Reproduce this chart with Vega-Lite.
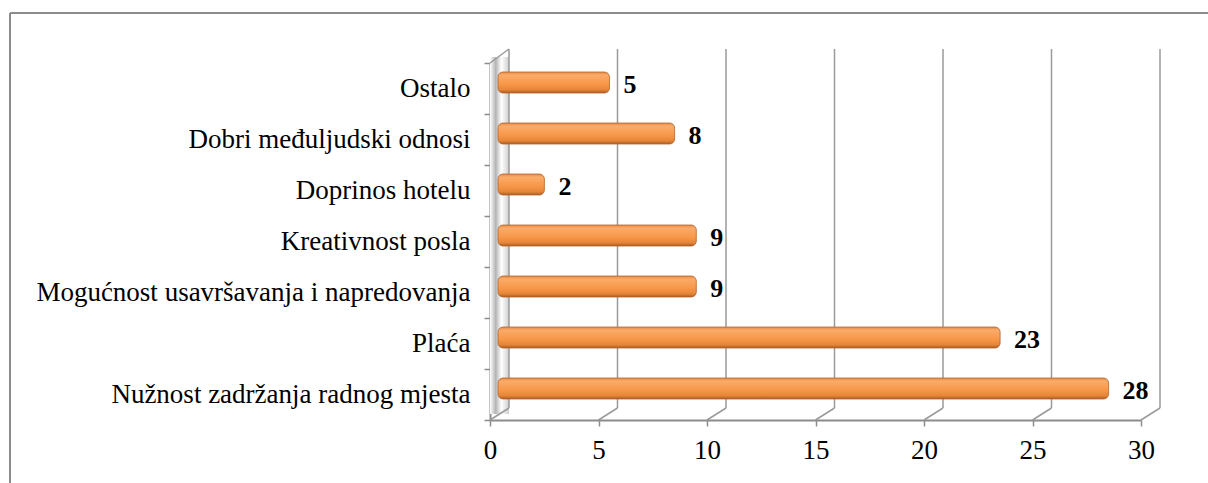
{
  "$schema": "https://vega.github.io/schema/vega-lite/v6.json",
  "autosize": {"type": "none"},
  "padding": {"left": 490, "top": 63, "right": 67, "bottom": 63},
  "width": 651,
  "height": 357,
  "background": "white",
  "config": {
    "view": {"stroke": null},
    "font": "Liberation Serif",
    "text": {"font": "Liberation Serif"},
    "axis": {"title": null, "grid": false, "labelFont": "Liberation Serif", "labelColor": "#000000", "labelFontSize": 27, "domainColor": "#8c8c8c", "domainWidth": 2, "tickColor": "#8c8c8c", "tickWidth": 1.5, "tickSize": 6}
  },
  "datasets": {
    "bars": [
      {"kategorija": "Ostalo", "broj": 5},
      {"kategorija": "Dobri međuljudski odnosi", "broj": 8},
      {"kategorija": "Doprinos hotelu", "broj": 2},
      {"kategorija": "Kreativnost posla", "broj": 9},
      {"kategorija": "Mogućnost usavršavanja i napredovanja", "broj": 9},
      {"kategorija": "Plaća", "broj": 23},
      {"kategorija": "Nužnost zadržanja radnog mjesta", "broj": 28}
    ],
    "grid": [{"v": 0}, {"v": 5}, {"v": 10}, {"v": 15}, {"v": 20}, {"v": 25}, {"v": 30}]
  },
  "resolve": {"scale": {"y": "independent"}, "axis": {"y": "independent"}},
  "layer": [
    {
      "data": {"values": [{}]},
      "mark": {"type": "rule", "color": "#8c8c8c", "strokeWidth": 2, "xOffset": -480, "x2Offset": 67, "yOffset": -50, "y2Offset": -50},
      "encoding": {
        "x": {"datum": 0, "type": "quantitative", "scale": {"domain": [0, 30], "nice": false}, "axis": {"values": [0, 5, 10, 15, 20, 25, 30], "labelPadding": 11, "labelBaseline": "top", "labelFlush": false, "labelFont": "Liberation Serif"}},
        "x2": {"datum": 30},
        "y": {"datum": 1, "type": "quantitative", "scale": {"domain": [0, 1], "nice": false, "zero": false}, "axis": null},
        "y2": {"datum": 1}
      }
    },
    {
      "data": {"values": [{}]},
      "mark": {"type": "rule", "color": "#8c8c8c", "strokeWidth": 2, "xOffset": -480, "x2Offset": -480, "yOffset": -50, "y2Offset": 63},
      "encoding": {
        "x": {"datum": 0, "type": "quantitative"},
        "x2": {"datum": 0},
        "y": {"datum": 1, "type": "quantitative", "scale": {"domain": [0, 1], "nice": false, "zero": false}, "axis": null},
        "y2": {"datum": 0}
      }
    },
    {
      "data": {"values": [{}]},
      "mark": {"type": "rect", "x2Offset": 19, "yOffset": -6, "y2Offset": -6,
        "fill": {"gradient": "linear", "x1": 0, "y1": 0, "x2": 1, "y2": 0, "stops": [
          {"offset": 0, "color": "#ffffff"},
          {"offset": 0.3, "color": "#b4b4b4"},
          {"offset": 0.6, "color": "#ffffff"},
          {"offset": 1, "color": "#cfcfcf"}
        ]}},
      "encoding": {
        "x": {"datum": 0, "type": "quantitative"},
        "x2": {"datum": 0},
        "y": {"datum": 0, "type": "quantitative", "scale": {"domain": [0, 1], "nice": false, "zero": false}, "axis": null},
        "y2": {"datum": 1}
      }
    },
    {
      "data": {"name": "grid"},
      "mark": {"type": "rule", "color": "#9a9a9a", "strokeWidth": 1.5, "xOffset": 19, "x2Offset": 19, "yOffset": -12, "y2Offset": -14},
      "encoding": {
        "x": {"field": "v", "type": "quantitative"},
        "y": {"datum": 0, "type": "quantitative", "scale": {"domain": [0, 1], "nice": false, "zero": false}, "axis": null},
        "y2": {"datum": 1}
      }
    },
    {
      "data": {"name": "grid"},
      "mark": {"type": "rule", "color": "#9a9a9a", "strokeWidth": 1.5, "x2Offset": 19, "y2Offset": -12},
      "encoding": {
        "x": {"field": "v", "type": "quantitative"},
        "x2": {"field": "v"},
        "y": {"datum": 0, "type": "quantitative", "scale": {"domain": [0, 1], "nice": false, "zero": false}, "axis": null},
        "y2": {"datum": 0}
      }
    },
    {
      "data": {"values": [{}]},
      "mark": {"type": "rule", "color": "#9a9a9a", "strokeWidth": 1.5, "x2Offset": 19, "y2Offset": -14},
      "encoding": {
        "x": {"datum": 0, "type": "quantitative"},
        "x2": {"datum": 0},
        "y": {"datum": 1, "type": "quantitative", "scale": {"domain": [0, 1], "nice": false, "zero": false}, "axis": null},
        "y2": {"datum": 1}
      }
    },
    {
      "data": {"name": "bars"},
      "mark": {"type": "bar", "height": 21, "xOffset": 11, "x2Offset": 8, "yOffset": -6, "cornerRadiusEnd": 5, "stroke": "#b5642b", "strokeWidth": 0.8,
        "fill": {"gradient": "linear", "x1": 0, "y1": 0, "x2": 0, "y2": 1, "stops": [
          {"offset": 0, "color": "#e48a45"},
          {"offset": 0.15, "color": "#fbab6a"},
          {"offset": 0.6, "color": "#f79646"},
          {"offset": 0.85, "color": "#e58538"},
          {"offset": 1, "color": "#a95a24"}
        ]}},
      "encoding": {
        "y": {"field": "kategorija", "type": "nominal", "sort": null, "scale": {"paddingInner": 0, "paddingOuter": 0},
          "axis": {"tickBand": "extent", "labelPadding": 14, "labelLimit": 600, "labelFont": "Liberation Serif"}},
        "x": {"field": "broj", "type": "quantitative"},
        "x2": {"datum": 0}
      }
    },
    {
      "data": {"name": "bars"},
      "mark": {"type": "text", "align": "left", "baseline": "middle", "xOffset": 11, "dx": 14, "yOffset": -4, "font": "Liberation Serif", "fontSize": 26, "fontWeight": "bold", "color": "#000000"},
      "encoding": {
        "y": {"field": "kategorija", "type": "nominal", "sort": null, "scale": {"paddingInner": 0, "paddingOuter": 0}, "axis": null},
        "x": {"field": "broj", "type": "quantitative"},
        "text": {"field": "broj"}
      }
    }
  ]
}
